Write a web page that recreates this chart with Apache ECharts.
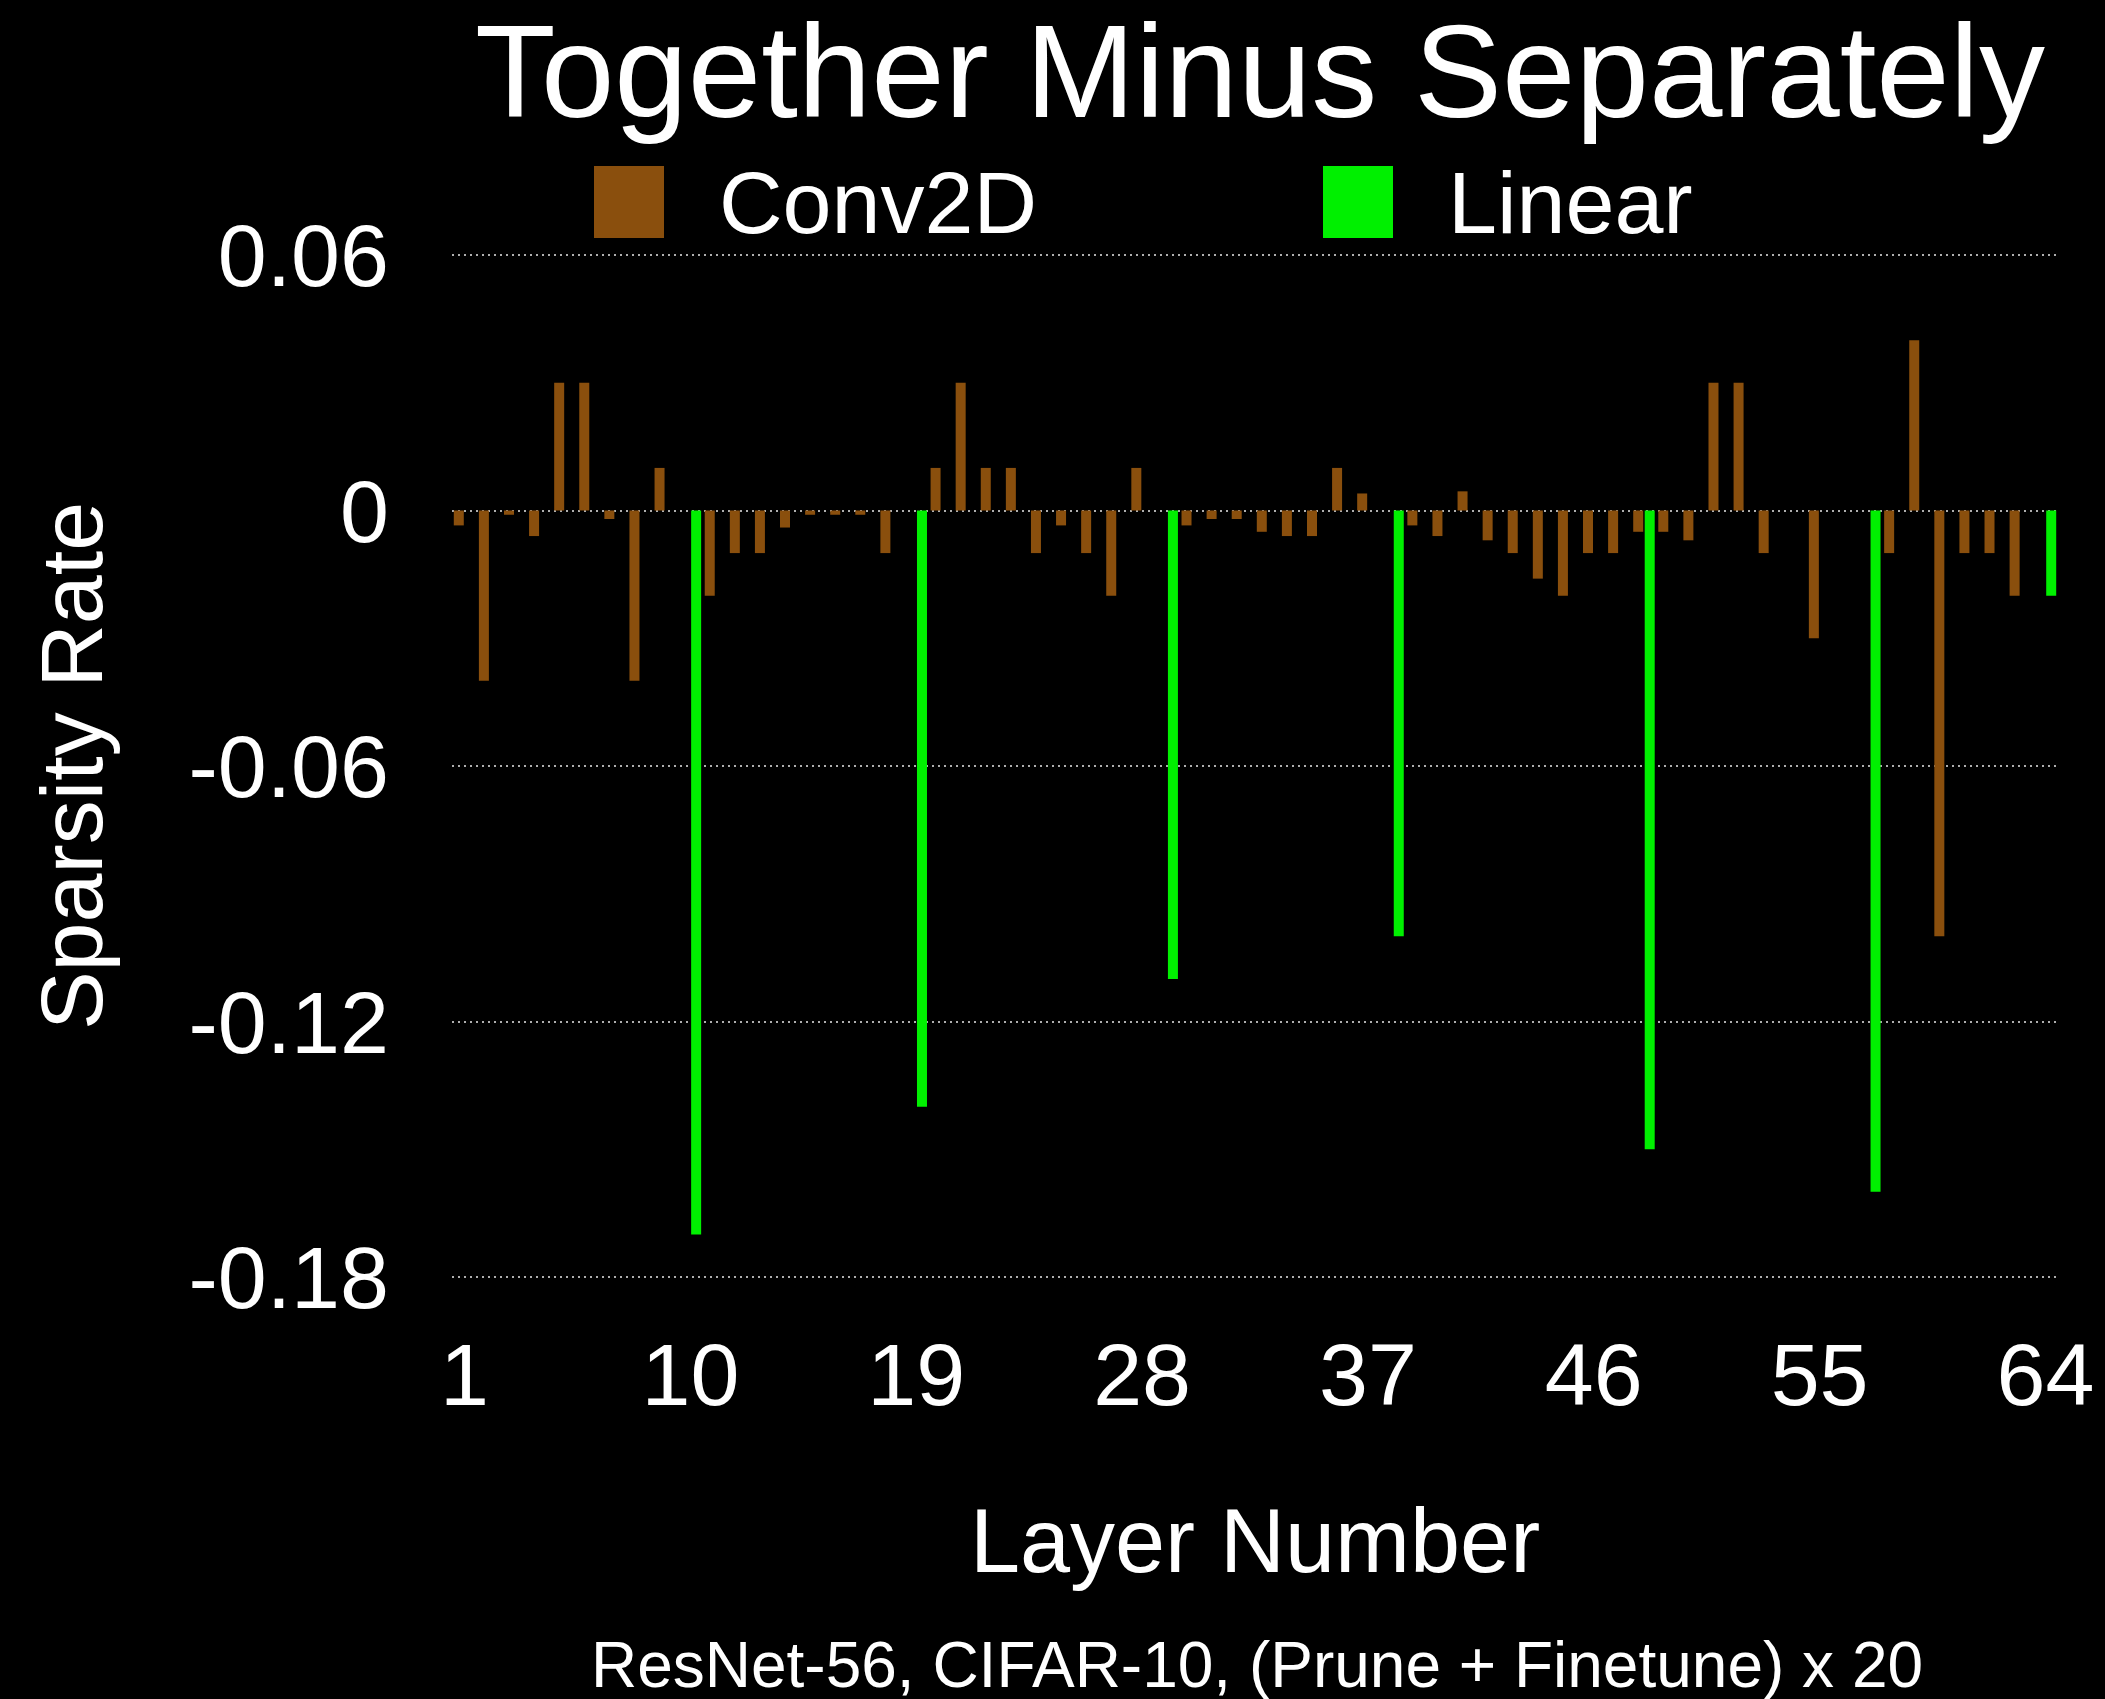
<!DOCTYPE html>
<html>
<head>
<meta charset="utf-8">
<title>Together Minus Separately</title>
<script src="https://cdn.jsdelivr.net/npm/echarts@6/dist/echarts.min.js"></script>
<style>
  html, body { margin: 0; padding: 0; background: #000; }
  #chart { width: 2105px; height: 1699px; }
</style>
</head>
<body>
<div id="chart"></div>
<script>
// layer numbers on the x axis
const layers = [
  '1','2','3','4','5','6','7','8','9','10','11','12','13','14','15','16',
  '17','18','19','20','21','22','23','24','25','26','27','28','29','30','31','32',
  '33','34','35','36','37','38','39','40','41','42','43','44','45','46','47','48',
  '49','50','51','52','53','54','55','56','57','58','59','60','61','62','63','64'
];

// Conv2D layers (null where the layer is not a conv)
const conv2d = [
  -0.0035, -0.04, -0.001, -0.006, 0.03, 0.03, -0.002, -0.04,
  0.01, null, -0.02, -0.01, -0.01, -0.004, -0.001, -0.001,
  -0.001, -0.01, null, 0.01, 0.03, 0.01, 0.01, -0.01,
  -0.0035, -0.01, -0.02, 0.01, null, -0.0035, -0.002, -0.002,
  -0.005, -0.006, -0.006, 0.01, 0.004, null, -0.0035, -0.006,
  0.0045, -0.007, -0.01, -0.016, -0.02, -0.01, -0.01, -0.005,
  -0.005, -0.007, 0.03, 0.03, -0.01, null, -0.03, null,
  null, -0.01, 0.04, -0.10, -0.01, -0.01, -0.02, null
];

// Linear layers
const linear = [
  null, null, null, null, null, null, null, null,
  null, -0.17, null, null, null, null, null, null,
  null, null, -0.14, null, null, null, null, null,
  null, null, null, null, -0.11, null, null, null,
  null, null, null, null, null, -0.10, null, null,
  null, null, null, null, null, null, null, -0.15,
  null, null, null, null, null, null, null, null,
  -0.16, null, null, null, null, null, null, -0.02
];

const yMin = -0.18;
const yMax = 0.06;
const yStep = 0.06;

const font = "'Liberation Sans', Arial, sans-serif";

const chart = echarts.init(document.getElementById('chart'));

// legend text pushed right of the swatch and a bit down
const legendText = {
  color: '#fff',
  fontFamily: font,
  fontSize: 88,
  rich: {
    t: { color: '#fff', fontFamily: font, fontSize: 88, padding: [14, 0, 0, 50] }
  }
};

const option = {
  backgroundColor: '#000',
  animation: false,
  title: [
    {
      text: 'Together Minus Separately',
      left: 1255,
      top: 10,
      textAlign: 'center',
      textStyle: { color: '#fff', fontFamily: font, fontSize: 132, fontWeight: 'normal' }
    },
    {
      text: 'ResNet-56, CIFAR-10, (Prune + Finetune) x 20',
      left: 1252,
      top: 1632,
      textAlign: 'center',
      textStyle: { color: '#fff', fontFamily: font, fontSize: 64, fontWeight: 'normal' }
    }
  ],
  legend: [
    {
      data: ['Conv2D'],
      left: 589,
      top: 160,
      itemWidth: 70,
      itemHeight: 72,
      icon: 'rect',
      formatter: '{t|{name}}',
      textStyle: legendText
    },
    {
      data: ['Linear'],
      left: 1318,
      top: 160,
      itemWidth: 70,
      itemHeight: 72,
      icon: 'rect',
      formatter: '{t|{name}}',
      textStyle: legendText
    }
  ],
  grid: {
    left: 452,
    right: 47,
    top: 255,
    bottom: 422,
    containLabel: false
  },
  xAxis: {
    type: 'category',
    data: layers,
    name: 'Layer Number',
    nameLocation: 'middle',
    nameGap: 225,
    nameTextStyle: { color: '#fff', fontFamily: font, fontSize: 90 },
    axisLine: { show: false },
    axisTick: { show: false },
    axisLabel: {
      interval: 8,
      margin: 60,
      color: '#fff',
      fontFamily: font,
      fontSize: 88
    },
    splitLine: { show: false }
  },
  yAxis: {
    type: 'value',
    min: yMin,
    max: yMax,
    interval: yStep,
    name: 'Sparsity Rate',
    nameLocation: 'middle',
    nameGap: 330,
    nameTextStyle: { color: '#fff', fontFamily: font, fontSize: 88 },
    axisLine: { show: false },
    axisTick: { show: false },
    axisLabel: {
      margin: 63,
      color: '#fff',
      fontFamily: font,
      fontSize: 88,
      formatter: function (v) {
        const s = Math.abs(v) < 1e-9 ? '0' : v.toFixed(2);
        return '{t|' + s + '}';
      },
      rich: {
        t: { color: '#fff', fontFamily: font, fontSize: 88, padding: [14, 0, 0, 0] }
      }
    },
    splitLine: {
      show: true,
      lineStyle: { color: '#e8e8e8', width: 1.5, type: [2, 4] }
    }
  },
  series: [
    {
      name: 'Conv2D',
      type: 'bar',
      data: conv2d,
      barWidth: 10,
      barGap: '15%',
      itemStyle: { color: '#8a4f0d' }
    },
    {
      name: 'Linear',
      type: 'bar',
      data: linear,
      barWidth: 10,
      itemStyle: { color: '#00f000' }
    }
  ]
};

chart.setOption(option);
</script>
</body>
</html>
